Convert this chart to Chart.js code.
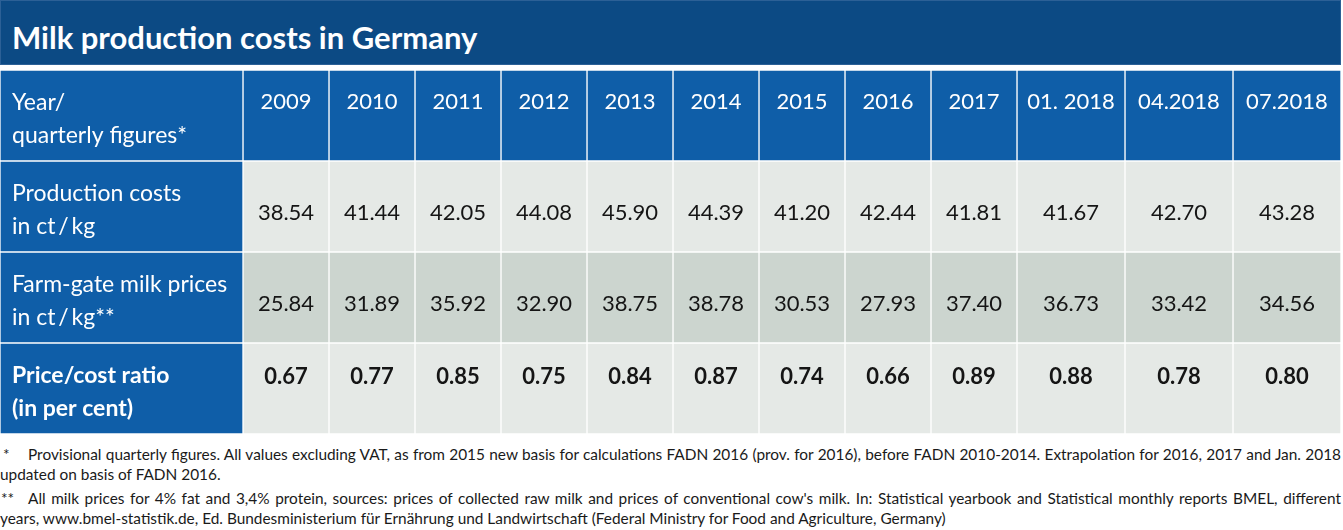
<!DOCTYPE html>
<html>
<head>
<meta charset="utf-8">
<script src="https://cdn.jsdelivr.net/npm/chart.js@4"></script>
<style>
	body { margin: 0; background: #fff; font-family: Lato, sans-serif; }
	.title-bar {
		position: absolute; left: 0; top: 0; width: 1339px; height: 63px;
		background: #0c4a84; border: 1px solid #2c6096;
	}
	.title-bar span {
		position: absolute; left: 11px; top: 21px; line-height: 31px;
		font-size: 31px; font-weight: bold; color: #fff;
	}
	.table-box { position: absolute; left: 0; top: 70px; width: 1341px; height: 364px; }
	.note {
		position: absolute; font-size: 15.4px; line-height: 18px; color: #1a1a1a;
		white-space: nowrap;
	}
	.note.full { text-align: justify; text-align-last: justify; }
</style>
</head>
<body>
<div class="title-bar"><span>Milk production costs in Germany</span></div>
<div class="table-box"><canvas id="chart"></canvas></div>

<div class="note" style="left:3px; top:445px;">*</div>
<div class="note full" style="left:28px; top:445px; width:1313px;">Provisional quarterly figures. All values excluding VAT, as from 2015 new basis for calculations FADN 2016 (prov. for 2016), before FADN 2010-2014. Extrapolation for 2016, 2017 and Jan. 2018</div>
<div class="note" style="left:0; top:465px;">updated on basis of FADN 2016.</div>
<div class="note" style="left:1px; top:489px;">**</div>
<div class="note full" style="left:28px; top:489px; width:1313px;">All milk prices for 4% fat and 3,4% protein, sources: prices of collected raw milk and prices of conventional cow's milk. In: Statistical yearbook and Statistical monthly reports BMEL, different</div>
<div class="note" style="left:0; top:509px;">years, www.bmel-statistik.de, Ed. Bundesministerium für Ernährung und Landwirtschaft (Federal Ministry for Food and Agriculture, Germany)</div>

<script>
var columns = ['2009', '2010', '2011', '2012', '2013', '2014', '2015', '2016', '2017', '01. 2018', '04.2018', '07.2018'];
var productionCosts = [38.54, 41.44, 42.05, 44.08, 45.90, 44.39, 41.20, 42.44, 41.81, 41.67, 42.70, 43.28];
var milkPrices = [25.84, 31.89, 35.92, 32.90, 38.75, 38.78, 30.53, 27.93, 37.40, 36.73, 33.42, 34.56];
var priceCostRatio = [0.67, 0.77, 0.85, 0.75, 0.84, 0.87, 0.74, 0.66, 0.89, 0.88, 0.78, 0.80];
var rowLabels = [
	['Year/', 'quarterly figures*'],
	['Production costs', 'in ct\u2009/\u2009kg'],
	['Farm-gate milk prices', 'in ct\u2009/\u2009kg**'],
	['Price/cost ratio', '(in per cent)']
];

// layout only: column widths, number baseline offsets from row centre
var labelWidth = 243, yearWidth = 86, quarterWidth = 108;
var blue = '#0f5ea8', light = '#e5e9e6', dark = '#ccd5cf';
var rowFills = [blue, light, dark, light];
var valueOffset = [-7, 13, 13.5, -5];

var values = [columns, productionCosts, milkPrices, priceCostRatio];
var datasets = [];
var x = 0;

datasets.push({
	data: rowLabels.map(function() { return [0, labelWidth]; }),
	backgroundColor: blue,
	texts: rowLabels,
	isLabel: true
});
x = labelWidth;

columns.forEach(function(col, i) {
	var w = col.indexOf('.') >= 0 ? quarterWidth : yearWidth;
	datasets.push({
		data: rowLabels.map(function() { return [x, x + w]; }),
		backgroundColor: rowFills,
		texts: values.map(function(v, r) { return r == 0 ? v[i] : v[i].toFixed(2); })
	});
	x += w;
});

var tableText = {
	id: 'tableText',
	afterDatasetsDraw: function(chart) {
		var ctx = chart.ctx;
		ctx.save();
		chart.data.datasets.forEach(function(ds, d) {
			chart.getDatasetMeta(d).data.forEach(function(bar, r) {
				var left = Math.min(bar.x, bar.base);
				var right = Math.max(bar.x, bar.base);
				var bold = r == 3 ? 'bold ' : '';
				ctx.textBaseline = 'alphabetic';
				if (ds.isLabel) {
					ctx.fillStyle = '#fff';
					ctx.textAlign = 'left';
					ctx.font = bold + '23px Lato';
					ctx.fillText(ds.texts[r][0], left + 12, bar.y - 6);
					ctx.fillText(ds.texts[r][1], left + 12, bar.y + 27);
				} else {
					ctx.fillStyle = r == 0 ? '#fff' : '#151515';
					ctx.textAlign = 'center';
					ctx.font = bold + '22px Lato';
					ctx.fillText(ds.texts[r], (left + right) / 2, bar.y + valueOffset[r]);
				}
			});
		});
		ctx.restore();
	}
};

new Chart(document.getElementById('chart'), {
	type: 'bar',
	data: {
		labels: rowLabels.map(function(l) { return l[0]; }),
		datasets: datasets
	},
	options: {
		indexAxis: 'y',
		responsive: true,
		maintainAspectRatio: false,
		animation: false,
		datasets: {
			bar: {
				grouped: false,
				barPercentage: 1,
				categoryPercentage: 1,
				borderWidth: 1,
				borderColor: '#fff',
				borderSkipped: false
			}
		},
		layout: { padding: 0 },
		plugins: { legend: { display: false }, tooltip: { enabled: false } },
		scales: {
			x: { type: 'linear', min: 0, max: x, display: false },
			y: { display: false }
		}
	},
	plugins: [tableText]
});
</script>
</body>
</html>
